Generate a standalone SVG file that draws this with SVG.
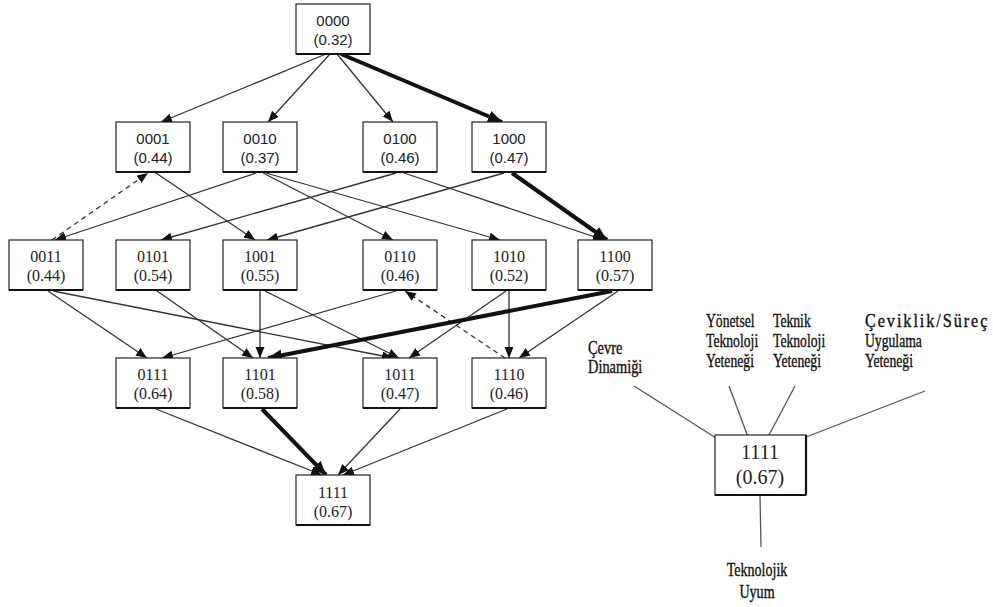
<svg xmlns="http://www.w3.org/2000/svg" width="993" height="607" viewBox="0 0 993 607">
  <style>
    .box { fill: #ffffff; stroke: #222222; stroke-width: 1.2; }
    .shadow { stroke: #111111; stroke-width: 2.2; }
    .sans { font-family: "Liberation Sans", Arial, sans-serif; font-size: 15px; fill: #222222; text-anchor: middle; }
    .serif { font-family: "Liberation Serif", "Times New Roman", serif; font-size: 16px; fill: #222222; text-anchor: middle; }
    .big { font-family: "Liberation Serif", "Times New Roman", serif; font-size: 20px; fill: #222222; text-anchor: middle; }
    .lbl { font-family: "Liberation Serif", "Times New Roman", serif; font-size: 18px; fill: #111111; stroke: #111111; stroke-width: 0.35; }
    .lbl2 { font-family: "Liberation Serif", "Times New Roman", serif; font-size: 19px; fill: #111111; stroke: #111111; stroke-width: 0.35; text-anchor: middle; }
    .edge { stroke: #333333; stroke-width: 1.3; fill: none; marker-end: url(#arr); }
    .bold { stroke: #111111; stroke-width: 4; fill: none; marker-end: url(#arrBig); }
    .dash { stroke: #333333; stroke-width: 1.3; fill: none; stroke-dasharray: 5 4; marker-end: url(#arr); }
    .link { stroke: #555555; stroke-width: 1.3; fill: none; }
  </style>
  <defs>
    <marker id="arr" markerUnits="userSpaceOnUse" markerWidth="12" markerHeight="10" refX="11" refY="4.5" orient="auto">
      <path d="M0,0 L11,4.5 L0,9 z" fill="#111111"/>
    </marker>
    <marker id="arrBig" markerUnits="userSpaceOnUse" markerWidth="16" markerHeight="14" refX="14" refY="6" orient="auto">
      <path d="M0,0 L14,6 L0,12 z" fill="#111111"/>
    </marker>
  </defs>

  <rect width="993" height="607" fill="#ffffff"/>

  <!-- connectors of the lattice -->
  <g id="edges">
    <!-- level 0 to level 1 -->
    <line class="edge" x1="326" y1="54" x2="161" y2="122"/>
    <line class="edge" x1="330" y1="54" x2="268" y2="122"/>
    <line class="edge" x1="337" y1="54" x2="393" y2="122"/>
    <line class="bold" x1="341" y1="54" x2="502" y2="122"/>
    <!-- level 1 to level 2 -->
    <line class="dash" x1="52" y1="240" x2="148" y2="173"/>
    <line class="edge" x1="156" y1="173" x2="255" y2="240"/>
    <line class="edge" x1="256" y1="173" x2="55" y2="240"/>
    <line class="edge" x1="263" y1="173" x2="393" y2="240"/>
    <line class="edge" x1="266" y1="173" x2="500" y2="240"/>
    <line class="edge" x1="396" y1="173" x2="161" y2="240"/>
    <line class="edge" x1="404" y1="173" x2="604" y2="240"/>
    <line class="edge" x1="504" y1="173" x2="267" y2="240"/>
    <line class="bold" x1="512" y1="173" x2="607" y2="240"/>
    <!-- level 2 to level 3 -->
    <line class="edge" x1="48" y1="291" x2="147" y2="358"/>
    <line class="edge" x1="53" y1="291" x2="393" y2="358"/>
    <line class="edge" x1="157" y1="291" x2="253" y2="358"/>
    <line class="edge" x1="260" y1="291" x2="260" y2="358"/>
    <line class="edge" x1="265" y1="291" x2="399" y2="358"/>
    <line class="edge" x1="396" y1="291" x2="162" y2="358"/>
    <line class="dash" x1="505" y1="358" x2="405" y2="291"/>
    <line class="edge" x1="506" y1="291" x2="409" y2="358"/>
    <line class="edge" x1="509" y1="291" x2="509" y2="358"/>
    <line class="bold" x1="612" y1="291" x2="268" y2="358"/>
    <line class="edge" x1="618" y1="291" x2="519" y2="358"/>
    <!-- level 3 to level 4 -->
    <line class="edge" x1="156" y1="409" x2="322" y2="475"/>
    <line class="bold" x1="262" y1="409" x2="326" y2="475"/>
    <line class="edge" x1="400" y1="409" x2="338" y2="475"/>
    <line class="edge" x1="507" y1="409" x2="343" y2="475"/>
  </g>

  <!-- lattice nodes -->
  <g id="n0000"><rect class="box" x="296" y="4" width="74" height="50"/><line class="shadow" x1="296" y1="54" x2="370" y2="54"/><text class="sans" x="333" y="26">0000</text><text class="sans" x="333" y="45">(0.32)</text></g>

  <g id="n0001"><rect class="box" x="116" y="122" width="74" height="50"/><line class="shadow" x1="116" y1="172" x2="190" y2="172"/><text class="sans" x="153" y="144">0001</text><text class="sans" x="153" y="163">(0.44)</text></g>
  <g id="n0010"><rect class="box" x="223" y="122" width="74" height="50"/><line class="shadow" x1="223" y1="172" x2="297" y2="172"/><text class="sans" x="260" y="144">0010</text><text class="sans" x="260" y="163">(0.37)</text></g>
  <g id="n0100"><rect class="box" x="363" y="122" width="74" height="50"/><line class="shadow" x1="363" y1="172" x2="437" y2="172"/><text class="sans" x="400" y="144">0100</text><text class="sans" x="400" y="163">(0.46)</text></g>
  <g id="n1000"><rect class="box" x="472" y="122" width="74" height="50"/><line class="shadow" x1="472" y1="172" x2="546" y2="172"/><text class="sans" x="509" y="144">1000</text><text class="sans" x="509" y="163">(0.47)</text></g>

  <g id="n0011"><rect class="box" x="9" y="240" width="74" height="50"/><line class="shadow" x1="9" y1="290" x2="83" y2="290"/><text class="serif" x="46" y="262">0011</text><text class="serif" x="46" y="281">(0.44)</text></g>
  <g id="n0101"><rect class="box" x="116" y="240" width="74" height="50"/><line class="shadow" x1="116" y1="290" x2="190" y2="290"/><text class="serif" x="153" y="262">0101</text><text class="serif" x="153" y="281">(0.54)</text></g>
  <g id="n1001"><rect class="box" x="223" y="240" width="74" height="50"/><line class="shadow" x1="223" y1="290" x2="297" y2="290"/><text class="serif" x="260" y="262">1001</text><text class="serif" x="260" y="281">(0.55)</text></g>
  <g id="n0110"><rect class="box" x="363" y="240" width="74" height="50"/><line class="shadow" x1="363" y1="290" x2="437" y2="290"/><text class="serif" x="400" y="262">0110</text><text class="serif" x="400" y="281">(0.46)</text></g>
  <g id="n1010"><rect class="box" x="472" y="240" width="74" height="50"/><line class="shadow" x1="472" y1="290" x2="546" y2="290"/><text class="serif" x="509" y="262">1010</text><text class="serif" x="509" y="281">(0.52)</text></g>
  <g id="n1100"><rect class="box" x="578" y="240" width="74" height="50"/><line class="shadow" x1="578" y1="290" x2="652" y2="290"/><text class="serif" x="615" y="262">1100</text><text class="serif" x="615" y="281">(0.57)</text></g>

  <g id="n0111"><rect class="box" x="116" y="358" width="74" height="50"/><line class="shadow" x1="116" y1="408" x2="190" y2="408"/><text class="serif" x="153" y="380">0111</text><text class="serif" x="153" y="399">(0.64)</text></g>
  <g id="n1101"><rect class="box" x="223" y="358" width="74" height="50"/><line class="shadow" x1="223" y1="408" x2="297" y2="408"/><text class="serif" x="260" y="380">1101</text><text class="serif" x="260" y="399">(0.58)</text></g>
  <g id="n1011"><rect class="box" x="363" y="358" width="74" height="50"/><line class="shadow" x1="363" y1="408" x2="437" y2="408"/><text class="serif" x="400" y="380">1011</text><text class="serif" x="400" y="399">(0.47)</text></g>
  <g id="n1110"><rect class="box" x="472" y="358" width="74" height="50"/><line class="shadow" x1="472" y1="408" x2="546" y2="408"/><text class="serif" x="509" y="380">1110</text><text class="serif" x="509" y="399">(0.46)</text></g>

  <g id="n1111"><rect class="box" x="296" y="475" width="74" height="50"/><line class="shadow" x1="296" y1="525" x2="370" y2="525"/><text class="serif" x="333" y="498">1111</text><text class="serif" x="333" y="517">(0.67)</text></g>

  <!-- model panel: four capabilities feeding technological fit -->
  <g id="model-links">
    <line class="link" x1="634" y1="386" x2="735" y2="450"/>
    <line class="link" x1="729" y1="386" x2="748" y2="437"/>
    <line class="link" x1="795" y1="386" x2="768" y2="437"/>
    <line class="link" x1="925" y1="391" x2="788" y2="444"/>
    <line class="link" x1="760" y1="496" x2="761" y2="547"/>
  </g>
  <g id="r1111">
    <rect class="box" x="715" y="435" width="91" height="60"/>
    <line class="shadow" x1="715" y1="495" x2="806" y2="495"/>
    <line class="shadow" x1="806" y1="435" x2="806" y2="495"/>
    <text class="big" x="760" y="459">1111</text>
    <text class="big" x="760" y="484">(0.67)</text>
  </g>
  <!-- capability labels, drawn in a narrowed serif -->
  <g id="cevre">
    <text class="lbl" transform="translate(588,354) scale(0.8,1)">Çevre</text>
    <text class="lbl" transform="translate(588,373) scale(0.8,1)">Dinamiği</text>
  </g>
  <g id="yonetsel">
    <text class="lbl" transform="translate(706,327) scale(0.76,1)">Yönetsel</text>
    <text class="lbl" transform="translate(706,347) scale(0.76,1)">Teknoloji</text>
    <text class="lbl" transform="translate(706,367) scale(0.76,1)">Yeteneği</text>
  </g>
  <g id="teknik">
    <text class="lbl" transform="translate(773,327) scale(0.76,1)">Teknik</text>
    <text class="lbl" transform="translate(773,347) scale(0.76,1)">Teknoloji</text>
    <text class="lbl" transform="translate(773,367) scale(0.76,1)">Yeteneği</text>
  </g>
  <g id="ceviklik">
    <text class="lbl" transform="translate(865,327) scale(0.9,1)" textLength="136" lengthAdjust="spacing">Çeviklik/Süreç</text>
    <text class="lbl" transform="translate(865,347) scale(0.76,1)">Uygulama</text>
    <text class="lbl" transform="translate(865,367) scale(0.76,1)">Yeteneği</text>
  </g>
  <g id="uyum">
    <text class="lbl2" transform="translate(757,576) scale(0.74,1)">Teknolojik</text>
    <text class="lbl2" transform="translate(757,598) scale(0.74,1)">Uyum</text>
  </g>
</svg>
